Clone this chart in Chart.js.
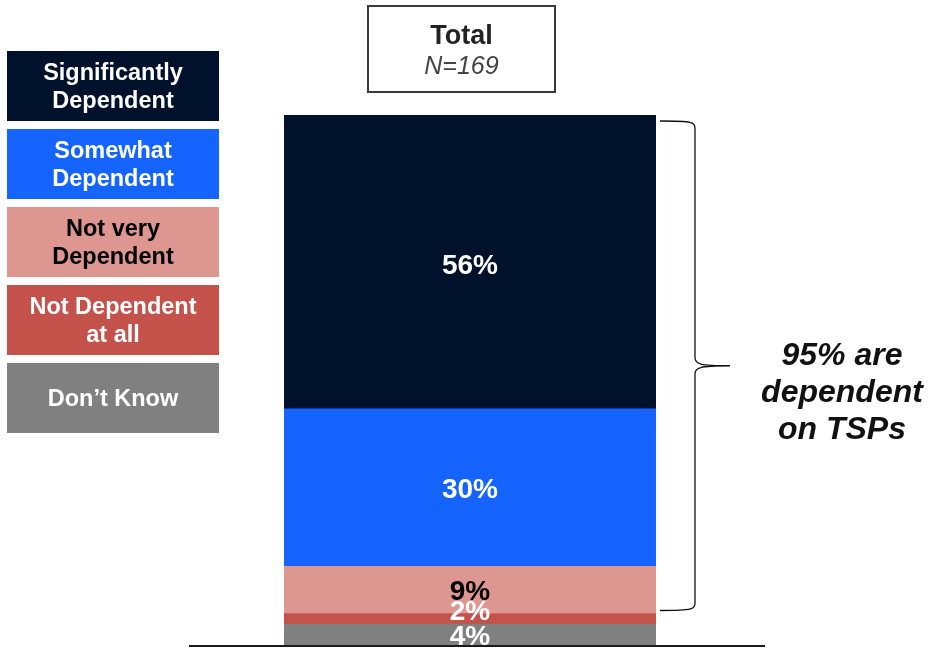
<!DOCTYPE html>
<html>
<head>
<meta charset="utf-8">
<script src="https://cdn.jsdelivr.net/npm/chart.js@4/dist/chart.umd.min.js"></script>
<style>
  html, body { margin: 0; padding: 0; background: #fff; }
  #wrap { position: relative; width: 935px; height: 648px; overflow: hidden; font-family: "Liberation Sans", Arial, sans-serif; }
  #chart { position: absolute; left: 0; top: 0; }
  #legend { position: absolute; left: 7px; top: 51px; width: 212px; }
  .lg { width: 212px; height: 70px; margin-bottom: 8px; display: flex; align-items: center; justify-content: center;
        text-align: center; font-weight: bold; font-size: 23.5px; line-height: 28px; white-space: pre-line; }
  #titlebox { position: absolute; left: 367px; top: 5px; width: 185px; height: 84px; border: 2px solid #3a3a3a;
              text-align: center; }
  #titlebox .t1 { font-weight: bold; font-size: 27px; color: #222; margin-top: 13px; line-height: 30px; }
  #titlebox .t2 { font-style: italic; font-size: 25px; color: #444; line-height: 31px; }
  #note { position: absolute; left: 742px; top: 336px; width: 200px; text-align: center; font-weight: bold; font-style: italic;
          font-size: 32px; line-height: 37px; color: #111; }
</style>
</head>
<body>
<div id="wrap">
  <canvas id="chart" width="935" height="648"></canvas>
  <div id="legend"></div>
  <div id="titlebox"><div class="t1">Total</div><div class="t2">N=169</div></div>
  <div id="note">95% are<br>dependent<br>on TSPs</div>
</div>
<script>
// ---- data ----
const categories = ['Total'];
const seriesNames = ['Don’t Know', 'Not Dependent\nat all', 'Not very\nDependent', 'Somewhat\nDependent', 'Significantly\nDependent'];
const dontKnow = [4];
const notDependent = [2];
const notVery = [9];
const somewhat = [30];
const significantly = [56];
const dependentShare = [95];
const sampleSize = [169];

const seriesValues = [dontKnow, notDependent, notVery, somewhat, significantly];
const seriesColors = ['#808080', '#C5524A', '#DD9690', '#1664FF', '#00112B'];
const labelColors = ['#ffffff', '#ffffff', '#000000', '#ffffff', '#ffffff'];
const labelNudge = [3, -6, 2, 3, 4]; // px vertical nudges for the value labels (style only)

const datasets = seriesNames.map((name, i) => ({
  label: name,
  data: seriesValues[i],
  backgroundColor: seriesColors[i],
  borderWidth: 0,
  barPercentage: 1,
  categoryPercentage: 1
}));

const totalSum = seriesValues.reduce((s, a) => s + a[0], 0);

const labelPlugin = {
  id: 'segLabels',
  afterDatasetsDraw(chart) {
    const ctx = chart.ctx;
    ctx.save();
    ctx.font = 'bold 28px "Liberation Sans", Arial, sans-serif';
    ctx.textAlign = 'center';
    ctx.textBaseline = 'middle';
    chart.data.datasets.forEach((ds, i) => {
      const meta = chart.getDatasetMeta(i);
      meta.data.forEach((bar, j) => {
        const v = ds.data[j];
        const y = (bar.y + bar.base) / 2;
        ctx.fillStyle = labelColors[i];
        ctx.fillText(v + '%', bar.x, y + labelNudge[i]);
      });
    });
    // baseline
    const ys = chart.scales.y;
    const yb = ys.getPixelForValue(0) + 1;
    ctx.strokeStyle = '#1a1a1a';
    ctx.lineWidth = 2;
    ctx.beginPath();
    ctx.moveTo(189, yb);
    ctx.lineTo(765, yb);
    ctx.stroke();
    // brace spanning dependent segments
    const top = ys.getPixelForValue(totalSum) + 6;
    const bottom = ys.getPixelForValue(dontKnow[0] + notDependent[0]) - 3;
    const mid = (top + bottom) / 2;
    const x0 = 660, x1 = 695, xt = 730;
    ctx.strokeStyle = '#111';
    ctx.lineWidth = 1.3;
    ctx.beginPath();
    ctx.moveTo(x0, top);
    ctx.bezierCurveTo(x1 - 2, top, x1, top + 1, x1, top + 8);
    ctx.lineTo(x1, mid - 8);
    ctx.bezierCurveTo(x1, mid - 2, x1 + 4, mid, xt, mid);
    ctx.moveTo(xt, mid);
    ctx.bezierCurveTo(x1 + 4, mid, x1, mid + 2, x1, mid + 8);
    ctx.lineTo(x1, bottom - 8);
    ctx.bezierCurveTo(x1, bottom - 1, x1 - 2, bottom, x0, bottom);
    ctx.stroke();
    ctx.restore();
  }
};

const chart = new Chart(document.getElementById('chart'), {
  type: 'bar',
  data: { labels: categories, datasets },
  options: {
    responsive: false,
    animation: false,
    devicePixelRatio: 1,
    layout: { padding: { left: 284, right: 279, top: 115, bottom: 3 } },
    plugins: { legend: { display: false }, tooltip: { enabled: false }, title: { display: false } },
    scales: {
      x: { stacked: true, display: false },
      y: { stacked: true, display: false, min: 0, max: totalSum }
    }
  },
  plugins: [labelPlugin]
});

// HTML legend built from datasets (top-to-bottom = reverse stack order)
const legendEl = document.getElementById('legend');
chart.data.datasets.slice().reverse().forEach((ds, k) => {
  const i = chart.data.datasets.length - 1 - k;
  const d = document.createElement('div');
  d.className = 'lg';
  d.style.background = ds.backgroundColor;
  d.style.color = labelColors[i];
  d.textContent = ds.label;
  legendEl.appendChild(d);
});
document.querySelector('#titlebox .t2').textContent = 'N=' + sampleSize[0];
document.getElementById('note').innerHTML = dependentShare[0] + '% are<br>dependent<br>on TSPs';
</script>
</body>
</html>
